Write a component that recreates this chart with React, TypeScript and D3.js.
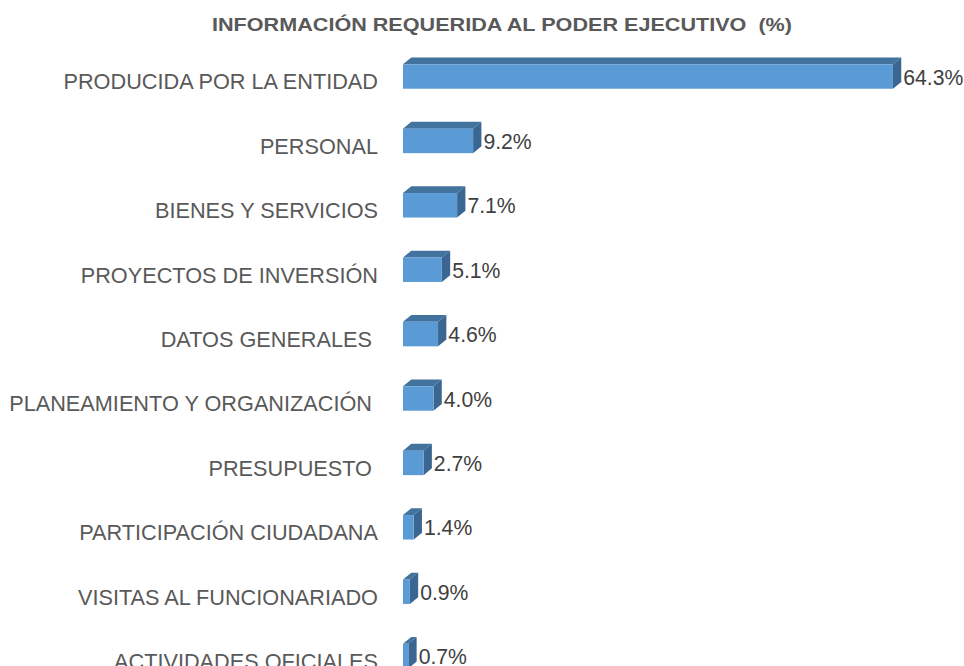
import React from "react";
import * as d3 from "d3";

const categories = [
  "PRODUCIDA POR LA ENTIDAD",
  "PERSONAL",
  "BIENES Y SERVICIOS",
  "PROYECTOS DE INVERSIÓN",
  "DATOS GENERALES ",
  "PLANEAMIENTO Y ORGANIZACIÓN ",
  "PRESUPUESTO ",
  "PARTICIPACIÓN CIUDADANA",
  "VISITAS AL FUNCIONARIADO",
  "ACTIVIDADES OFICIALES",
];
const values = [64.3, 9.2, 7.1, 5.1, 4.6, 4.0, 2.7, 1.4, 0.9, 0.7];
const valueLabels = ["64.3%", "9.2%", "7.1%", "5.1%", "4.6%", "4.0%", "2.7%", "1.4%", "0.9%", "0.7%"];
const title = "INFORMACIÓN REQUERIDA AL PODER EJECUTIVO  (%)";

const W = 964;
const H = 666;
const FONT = "'Liberation Sans', Arial, Helvetica, sans-serif";

export default function App() {
  const x0 = 403;
  const x = d3.scaleLinear().domain([0, 70]).range([0, 533.4]);
  const y = d3
    .scaleBand<string>()
    .domain(categories)
    .range([44.3, 688.3])
    .paddingInner(0.62)
    .paddingOuter(0.31);
  const dx = 8.3;
  const dy = 6.8;
  const bw = y.bandwidth();

  return (
    <svg
      width={W}
      height={H}
      style={{ position: "absolute", left: 0, top: 0, background: "#fff" }}
    >
      <text
        x={502}
        y={30.7}
        textAnchor="middle"
        fontFamily={FONT}
        fontWeight="bold"
        fontSize={19}
        fill="#595959"
        textLength={580}
        lengthAdjust="spacingAndGlyphs"
        style={{ whiteSpace: "pre" }}
      >
        {title}
      </text>
      {categories.map((c, i) => {
        const yt = y(c)!;
        const w = x(values[i]);
        const xr = x0 + w;
        const yc = yt + bw / 2;
        return (
          <g key={c}>
            <text
              x={378}
              y={yc + 12.8}
              textAnchor="end"
              fontFamily={FONT}
              fontSize={21.7}
              fill="#595959"
              style={{ whiteSpace: "pre" }}
            >
              {c}
            </text>
            <path
              d={`M${x0},${yt}L${x0 + dx},${yt - dy}L${xr + dx},${yt - dy}L${xr},${yt}Z`}
              fill="#42729E"
            />
            <path
              d={`M${xr},${yt}L${xr + dx},${yt - dy}L${xr + dx},${yt + bw - dy}L${xr},${yt + bw}Z`}
              fill="#3A6691"
            />
            <rect x={x0} y={yt} width={w} height={bw} fill="#5B9BD5" />
            <text
              x={xr + dx + 2}
              y={yc + 8}
              fontFamily={FONT}
              fontSize={21.2}
              fill="#404040"
            >
              {valueLabels[i]}
            </text>
          </g>
        );
      })}
    </svg>
  );
}
